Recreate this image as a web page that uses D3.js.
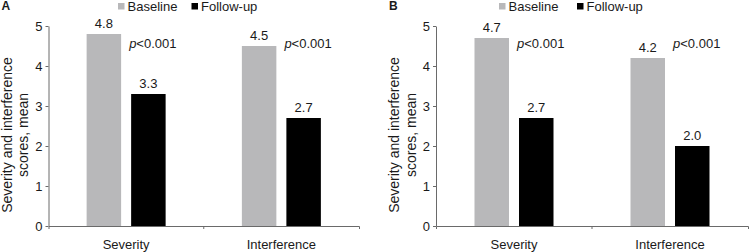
<!DOCTYPE html>
<html>
<head>
<meta charset="utf-8">
<script src="https://cdn.jsdelivr.net/npm/d3@7/dist/d3.min.js"></script>
<style>
  body { margin: 0; background: #fff; }
  svg text { font-family: "Liberation Sans", Arial, sans-serif; fill: #1a1a1a; }
</style>
</head>
<body>
<svg id="chart"></svg>
<script>
// Chart data
const categories = ["Severity", "Interference"];
const seriesNames = ["Baseline", "Follow-up"];
const panelNames = ["A", "B"];
const baselineA = [4.8, 4.5];
const followupA = [3.3, 2.7];
const baselineB = [4.7, 4.2];
const followupB = [2.7, 2.0];
const pValues = ["<0.001", "<0.001"];
const yTicks = [0, 1, 2, 3, 4, 5];

const width = 749;
const height = 252;

const seriesColors = {
    "Baseline": "#b8b8ba",
    "Follow-up": "#000000"
};

// Layout of each panel (pixel positions)
const panels = [
    { name: panelNames[0], left: 48.5, right: 359, legendX: [118, 191.5], base: baselineA, follow: followupA },
    { name: panelNames[1], left: 436, right: 748, legendX: [499, 577], base: baselineB, follow: followupB }
];

const svg = d3.select("#chart")
    .attr("width", width)
    .attr("height", height);

const y = d3.scaleLinear()
    .domain([0, 5])
    .range([226, 26]);

function drawPanel(p) {
    const g = svg.append("g");

    const x = d3.scaleBand()
        .domain(categories)
        .range([p.left, p.right]);

    // rows of data for the bars
    const rows = categories.map((c, i) => ({
        category: c,
        values: [
            { series: seriesNames[0], value: p.base[i] },
            { series: seriesNames[1], value: p.follow[i] }
        ],
        pValue: pValues[i]
    }));

    const groupW = 79;
    const inner = d3.scaleBand()
        .domain(seriesNames)
        .range([0, groupW])
        .paddingInner(0.225);

    const groups = g.selectAll(".cat")
        .data(rows)
        .enter().append("g")
        .attr("class", "cat")
        .attr("transform", d => `translate(${x(d.category) + x.bandwidth() / 2 - groupW / 2},0)`);

    groups.selectAll("rect")
        .data(d => d.values)
        .enter().append("rect")
        .attr("x", d => inner(d.series))
        .attr("width", inner.bandwidth())
        .attr("y", d => y(d.value))
        .attr("height", d => y(0) - y(d.value))
        .attr("fill", d => seriesColors[d.series]);

    // value labels
    groups.selectAll(".val")
        .data(d => d.values)
        .enter().append("text")
        .attr("class", "val")
        .attr("x", d => inner(d.series) + inner.bandwidth() / 2)
        .attr("y", d => y(d.value) - 6)
        .attr("text-anchor", "middle")
        .style("font-size", "13px")
        .text(d => d.value.toFixed(1));

    // p-value labels
    const pt = groups.append("text")
        .attr("x", inner(seriesNames[1]) - 2)
        .attr("y", y(4.44))
        .style("font-size", "13px");
    pt.append("tspan").style("font-style", "italic").text("p");
    pt.append("tspan").text(d => d.pValue);

    // y axis
    const yAxis = g.append("g")
        .attr("transform", `translate(${p.left},0)`)
        .call(d3.axisLeft(y).tickValues(yTicks).tickFormat(d3.format("d"))
            .tickSize(3).tickSizeOuter(0).tickPadding(3));
    yAxis.selectAll("text").style("font-size", "13px");

    // x axis
    const xAxis = g.append("g")
        .attr("transform", `translate(0,${y(0)})`)
        .call(d3.axisBottom(x).tickSize(0).tickSizeOuter(3).tickPadding(13.5));
    xAxis.selectAll("text").style("font-size", "13px");
    xAxis.selectAll(".bound")
        .data(categories.slice(1))
        .enter().append("line")
        .attr("class", "bound")
        .attr("x1", d => x(d))
        .attr("x2", d => x(d))
        .attr("y1", 0)
        .attr("y2", 3);

    g.selectAll(".domain, .tick line, .bound")
        .attr("stroke", "#6a6a6a");

    // y axis title
    const title = g.append("text")
        .attr("transform", `translate(${p.left},135) rotate(-90)`)
        .attr("text-anchor", "middle")
        .style("font-size", "14px");
    title.append("tspan").attr("x", 0).attr("y", -37).text("Severity and interference");
    title.append("tspan").attr("x", 0).attr("y", -20.5).text("scores, mean");

    // panel letter
    g.append("text")
        .attr("x", p.left - 47)
        .attr("y", 9.5)
        .style("font-size", "12px")
        .style("font-weight", "bold")
        .text(p.name);

    // legend
    const legend = g.selectAll(".legend")
        .data(seriesNames)
        .enter().append("g")
        .attr("class", "legend")
        .attr("transform", (d, i) => `translate(${p.legendX[i]},0)`);

    legend.append("rect")
        .attr("y", 3)
        .attr("width", 6.5)
        .attr("height", 6.5)
        .attr("fill", d => seriesColors[d]);

    legend.append("text")
        .attr("x", 9.5)
        .attr("y", 10.5)
        .style("font-size", "13px")
        .text(d => d);
}

panels.forEach(drawPanel);
</script>
</body>
</html>
